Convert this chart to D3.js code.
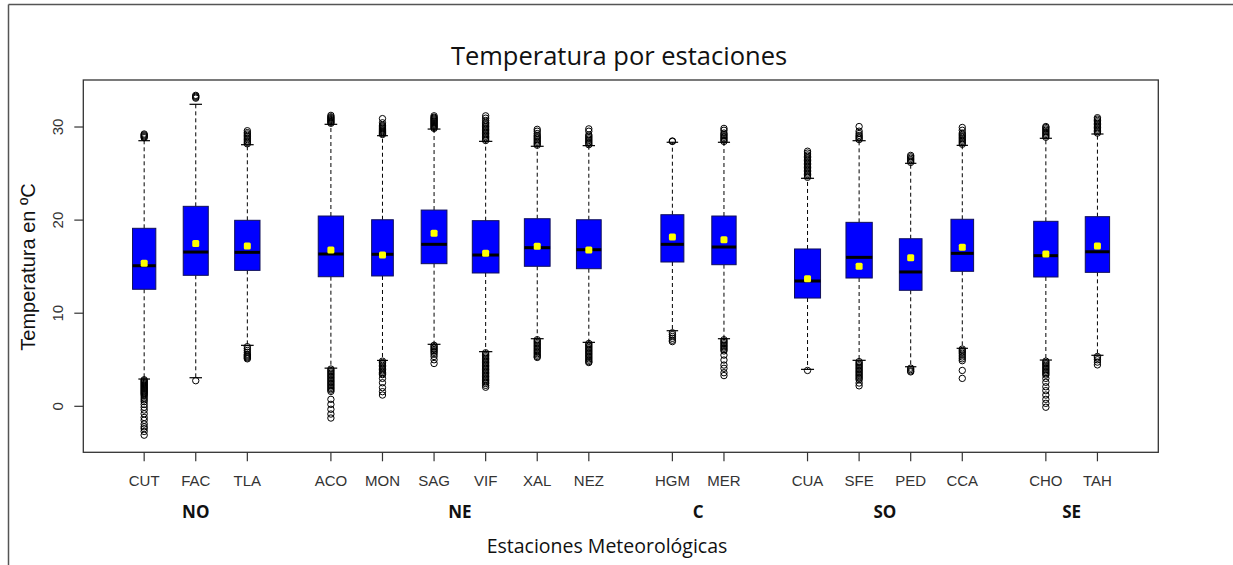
<!DOCTYPE html>
<html><head><meta charset="utf-8">
<script src="https://cdn.jsdelivr.net/npm/d3@7"></script>
<style>body{margin:0;background:#fff}svg{display:block}</style>
</head><body>
<svg id="c" width="1233" height="565"></svg>
<script>
// ---- data ----
const stations = ["CUT","FAC","TLA","ACO","MON","SAG","VIF","XAL","NEZ","HGM","MER","CUA","SFE","PED","CCA","CHO","TAH"];
const groupNames = ["NO","NE","C","SO","SE"];
const groupSizes = [3,6,2,4,2];
const q1     = [12.57,14.07,14.6,13.92,14.0,15.32,14.32,15.04,14.78,15.5,15.21,11.63,13.78,12.46,14.5,13.89,14.39];
const median = [15.1,16.57,16.54,16.36,16.33,17.4,16.25,17.04,16.82,17.4,17.11,13.46,16.0,14.43,16.43,16.18,16.6];
const q3     = [19.12,21.48,19.98,20.44,20.04,21.08,19.94,20.15,20.04,20.58,20.44,16.9,19.76,18.0,20.09,19.87,20.37];
const means  = [15.36,17.5,17.22,16.79,16.25,18.6,16.43,17.19,16.8,18.19,17.9,13.7,15.04,15.96,17.08,16.36,17.22];
const whiskerLo = [2.93,3.07,6.55,4.1,4.93,6.66,5.87,7.26,6.87,8.12,7.26,3.97,4.94,4.25,6.23,4.97,5.48];
const whiskerHi = [28.53,32.44,28.1,30.29,29.07,29.78,28.46,27.93,28.0,28.36,28.36,24.49,28.53,26.1,28.03,28.79,29.25];
// relative number of observations (boxes drawn with variable width)
const nObs = [76,88,90,90,66,93,100,93,86,74,83,95,97,72,72,83,83];
const outHigh = [
  [28.85,28.95,29.05,29.15,29.25],
  [33.1,33.2,33.3,33.4],
  [28.2,28.35,28.5,28.65,28.8,28.95,29.1,29.25,29.4,29.6],
  [30.4,30.5,30.6,30.7,30.8,30.9,31.0,31.1,31.25],
  [29.2,29.3,29.4,29.5,29.6,29.7,29.8,29.9,30.0,30.1,30.2,30.45,30.9],
  [29.85,29.95,30.05,30.15,30.25,30.35,30.45,30.55,30.65,30.75,30.85,30.95,31.05,31.2],
  [28.55,28.7,28.85,29.0,29.15,29.3,29.45,29.6,29.75,29.9,30.05,30.2,30.35,30.5,30.7,30.95,31.2],
  [28.05,28.2,28.35,28.5,28.65,28.8,28.95,29.1,29.3,29.55,29.75],
  [28.1,28.25,28.4,28.55,28.7,28.85,29.0,29.15,29.55,29.8],
  [28.45,28.5],
  [28.45,28.6,28.75,28.9,29.05,29.2,29.35,29.65,29.85],
  [24.6,24.75,24.9,25.05,25.2,25.35,25.5,25.65,25.8,25.95,26.1,26.25,26.4,26.55,26.7,26.85,27.0,27.2,27.4],
  [28.65,28.8,28.95,29.1,29.3,29.55,30.05],
  [26.2,26.35,26.5,26.65,26.8,26.95],
  [28.15,28.3,28.45,28.6,28.75,28.9,29.05,29.2,29.35,29.65,29.95],
  [28.9,29.05,29.2,29.35,29.5,29.65,29.8,29.95,30.05],
  [29.35,29.5,29.65,29.8,29.95,30.1,30.25,30.4,30.55,30.7,30.85,31.0]
];
const outLow = [
  [2.85,2.75,2.65,2.55,2.45,2.35,2.25,2.15,2.05,1.95,1.85,1.75,1.65,1.55,1.45,1.35,1.25,1.1,0.9,0.7,0.5,0.2,-0.1,-0.4,-0.8,-1.2,-1.5,-1.9,-2.2,-2.4,-2.7,-3.1],
  [2.75],
  [6.4,6.2,6.0,5.8,5.6,5.5,5.4,5.3,5.2,5.1],
  [4.0,3.85,3.7,3.55,3.4,3.25,3.1,2.95,2.8,2.65,2.5,2.35,2.2,2.05,1.9,1.75,1.6,0.75,0.21,-0.32,-0.83,-1.26],
  [4.85,4.7,4.55,4.4,4.25,4.1,3.95,3.8,3.65,3.5,3.4,3.0,2.53,2.0,1.57,1.21],
  [6.55,6.4,6.25,6.1,5.95,5.8,5.6,5.35,5.0,4.6],
  [5.75,5.6,5.45,5.3,5.15,5.0,4.85,4.7,4.55,4.4,4.25,4.1,3.95,3.8,3.65,3.5,3.35,3.2,3.05,2.9,2.75,2.6,2.45,2.25,2.05],
  [7.15,7.0,6.85,6.7,6.55,6.4,6.25,6.1,5.95,5.8,5.65,5.5,5.35,5.25],
  [6.75,6.6,6.45,6.3,6.15,6.0,5.85,5.7,5.55,5.4,5.25,5.1,4.95,4.8,4.7],
  [7.9,7.7,7.5,7.3,7.1,6.95],
  [7.15,7.0,6.85,6.7,6.55,6.4,6.25,6.1,5.95,5.5,4.97,4.43,4.08,3.61,3.3],
  [3.85],
  [4.8,4.65,4.5,4.35,4.2,4.05,3.9,3.75,3.6,3.45,3.3,3.15,3.0,2.85,2.5,2.2],
  [4.1,3.95,3.8,3.7],
  [6.15,6.0,5.85,5.7,5.5,5.3,5.1,4.9,3.85,3.0],
  [4.85,4.7,4.55,4.4,4.25,4.1,3.95,3.8,3.65,3.5,3.35,3.0,2.58,2.1,1.68,1.21,0.75,0.32,-0.1],
  [5.35,5.2,5.0,4.75,4.45]
];
const yTicks = [0,10,20,30];
const title = "Temperatura por estaciones";
const xTitle = "Estaciones Meteorológicas";
const yTitle = "Temperatura en ºC";

// ---- layout ----
const svg = d3.select("#c");
const plot = {l:83.3, r:1158.3, t:80, b:452.3};
const groupGap = 0.62;

// position of each station along the x axis: index plus a gap per group
const stationGroup = [];
groupSizes.forEach((s,g)=>{ for(let k=0;k<s;k++) stationGroup.push(g); });
const pos = stations.map((s,i)=> i + stationGroup[i]*groupGap);

const x = d3.scaleLinear().domain([-1.18, 19.66]).range([plot.l, plot.r]);
const y = d3.scaleLinear().domain([-4.94, 35.05]).range([plot.b, plot.t]);
const w = d3.scaleSqrt().domain([0, d3.max(nObs)]).range([0, 26.7]);

// outer frame
svg.append("line").attr("x1",8.5).attr("x2",1233).attr("y1",4.5).attr("y2",4.5).attr("stroke","#555").attr("stroke-width",1.5);
svg.append("line").attr("x1",8.5).attr("x2",8.5).attr("y1",4.5).attr("y2",565).attr("stroke","#555").attr("stroke-width",1.5);

// title
svg.append("text").attr("x",619).attr("y",65).attr("text-anchor","middle")
  .attr("font-family","Open Sans").attr("font-size",25.5).attr("fill","#111").text(title);

// boxes
const g = svg.append("g");
stations.forEach((s,i)=>{
  const cx = x(pos[i]);
  const bw = w(nObs[i]);
  // whiskers
  g.append("line").attr("x1",cx).attr("x2",cx).attr("y1",y(q3[i])).attr("y2",y(whiskerHi[i]))
    .attr("stroke","#000").attr("stroke-dasharray","4,3");
  g.append("line").attr("x1",cx).attr("x2",cx).attr("y1",y(q1[i])).attr("y2",y(whiskerLo[i]))
    .attr("stroke","#000").attr("stroke-dasharray","4,3");
  [whiskerHi[i], whiskerLo[i]].forEach(v=>{
    g.append("line").attr("x1",cx-bw/4).attr("x2",cx+bw/4).attr("y1",y(v)).attr("y2",y(v))
      .attr("stroke","#000").attr("stroke-width",1.2);
  });
  // outliers
  outHigh[i].concat(outLow[i]).forEach(v=>{
    g.append("circle").attr("cx",cx).attr("cy",y(v)).attr("r",3.2)
      .attr("fill","none").attr("stroke","#000").attr("stroke-width",1);
  });
  // box
  g.append("rect").attr("x",cx-bw/2).attr("width",bw).attr("y",y(q3[i])).attr("height",y(q1[i])-y(q3[i]))
    .attr("fill","#0000ff").attr("stroke","#10105a").attr("stroke-width",1);
  // median
  g.append("line").attr("x1",cx-bw/2).attr("x2",cx+bw/2).attr("y1",y(median[i])).attr("y2",y(median[i]))
    .attr("stroke","#000").attr("stroke-width",3);
  // mean
  g.append("rect").attr("x",cx-3.5).attr("y",y(means[i])-3.5).attr("width",7).attr("height",7).attr("rx",1.5)
    .attr("fill","#ffff00");
});

// plot frame
svg.append("rect").attr("x",plot.l).attr("y",plot.t).attr("width",plot.r-plot.l).attr("height",plot.b-plot.t)
  .attr("fill","none").attr("stroke","#333").attr("stroke-width",1.3);

// y axis
const ya = svg.append("g");
yTicks.forEach(t=>{
  ya.append("line").attr("x1",plot.l-9).attr("x2",plot.l).attr("y1",y(t)).attr("y2",y(t)).attr("stroke","#333").attr("stroke-width",1.2);
  ya.append("text").attr("transform",`translate(63.3,${y(t)}) rotate(-90)`).attr("text-anchor","middle")
    .attr("font-family","Liberation Sans").attr("font-size",15).attr("fill","#333").text(t);
});

// x axis
const xa = svg.append("g");
stations.forEach((s,i)=>{
  const cx = x(pos[i]);
  xa.append("line").attr("x1",cx).attr("x2",cx).attr("y1",plot.b).attr("y2",plot.b+9).attr("stroke","#333").attr("stroke-width",1.2);
  xa.append("text").attr("x",cx).attr("y",485.7).attr("text-anchor","middle")
    .attr("font-family","Liberation Sans").attr("font-size",15).attr("fill","#333").text(s);
});

// group labels
let start = 0;
groupNames.forEach((gn,gi)=>{
  const idx = d3.range(start, start+groupSizes[gi]);
  const cx = (x(pos[idx[0]]) + x(pos[idx[idx.length-1]]))/2;
  svg.append("text").attr("x",cx).attr("y",518).attr("text-anchor","middle")
    .attr("font-family","Open Sans").attr("font-weight","bold").attr("font-size",17).attr("fill","#111").text(gn);
  start += groupSizes[gi];
});

// axis titles
svg.append("text").attr("x",607).attr("y",553).attr("text-anchor","middle")
  .attr("font-family","Open Sans").attr("font-size",19.5).attr("fill","#111").text(xTitle);
svg.append("text").attr("transform",`translate(35,267) rotate(-90)`).attr("text-anchor","middle")
  .attr("font-family","Liberation Sans").attr("font-size",20).attr("fill","#111").text(yTitle);
</script>
</body></html>
